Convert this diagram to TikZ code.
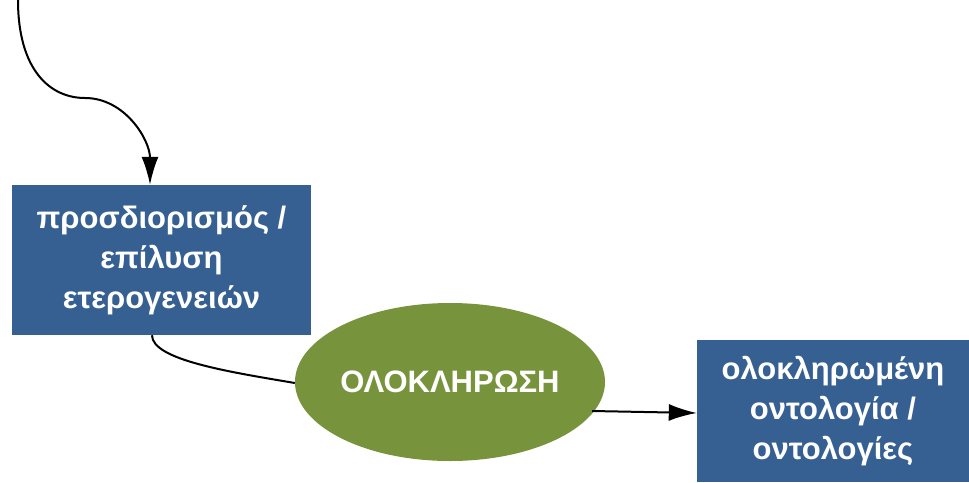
\documentclass[tikz,border=0pt]{standalone}
\usepackage{fontspec}
\setmainfont{Liberation Sans}
\usetikzlibrary{arrows.meta,shapes.geometric}
\definecolor{boxblue}{HTML}{366092}
\definecolor{ovalgreen}{HTML}{77933C}
\tikzset{
  bluebox/.style={rectangle, fill=boxblue, text=white, align=center, inner sep=0pt, font=\bfseries\fontsize{31}{40}\selectfont},
  greenoval/.style={ellipse, fill=ovalgreen, text=white, inner sep=0pt, font=\bfseries\fontsize{31}{36}\selectfont},
  conn/.style={line width=2pt, black},
  tip/.style={-{Latex[length=28pt,width=17pt]}}
}
\begin{document}
\begin{tikzpicture}[x=1pt,y=-1pt]
\useasboundingbox (0,0) rectangle (969,482);
\node[bluebox, minimum width=299pt, minimum height=150pt] (b1) at (161.5,260) {προσδιορισμός /\\επίλυση\\ετερογενειών};
\node[greenoval, minimum width=306pt, minimum height=158pt] (ov) at (450,382) {ΟΛΟΚΛΗΡΩΣΗ};
\node[bluebox, minimum width=272pt, minimum height=142pt] (b2) at (833,411) {ολοκληρωμένη\\οντολογία /\\οντολογίες};
\coordinate (start) at (18,0);
\coordinate (mid) at (85,98);
\draw[conn, tip] (start) .. controls (18,70) and (50,98) .. (mid) .. controls (125,98) and (150,140) .. (b1.north -| 150,0);
\draw[conn] (b1.south -| 152,0) .. controls (152,360) and (230,372) .. (ov.west |- 0,383);
\draw[conn, tip] (ov.east |- 0,411) ++(-13,0) coordinate (oe) -- (b2.west |- 0,413);
\end{tikzpicture}
\end{document}
